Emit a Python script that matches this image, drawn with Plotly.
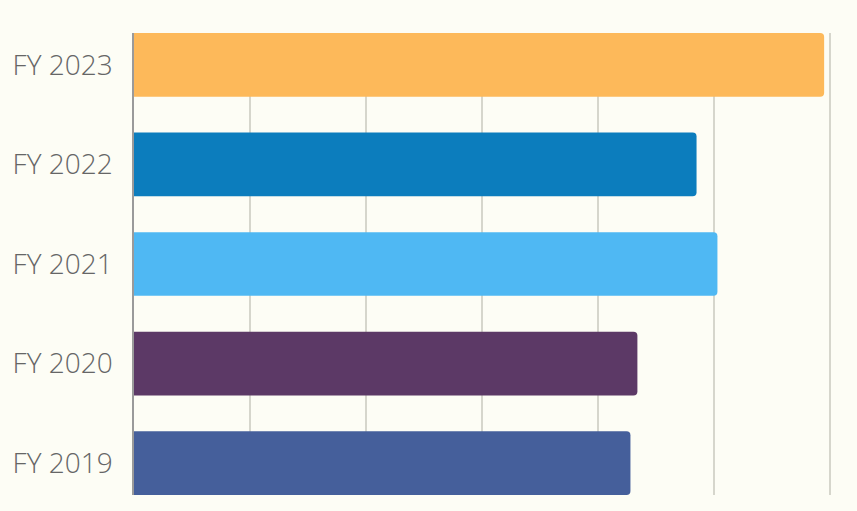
import plotly.graph_objects as go

categories = ["FY 2019", "FY 2020", "FY 2021", "FY 2022", "FY 2023"]
values = [42.8, 43.4, 50.3, 48.5, 59.5]
colors = ["#455f9b", "#5c3966", "#4fb8f3", "#0c7dbd", "#fdb95a"]

fig = go.Figure(go.Bar(
    y=categories, x=values, orientation="h",
    marker=dict(color=colors, line=dict(width=0)),
    width=0.64,
))

fig.update_layout(
    width=857, height=511,
    margin=dict(l=134, r=23, t=33, b=16, autoexpand=False),
    paper_bgcolor="#fdfdf5", plot_bgcolor="#fdfdf5",
    barcornerradius=4,
    showlegend=False,
    font=dict(family="Open Sans", color="#666666"),
)
fig.update_xaxes(range=[0, 60.35], tick0=0, dtick=10, showticklabels=False,
                 showgrid=True, gridcolor="#d6d6cc", gridwidth=1.5,
                 zeroline=False, showline=False, automargin=False)
fig.update_yaxes(range=[-0.32, 4.32], showgrid=False, automargin=False,
                 showline=True, linecolor="#9a9a9a", linewidth=1.5,
                 ticks="", ticklabelstandoff=14,
                 tickfont=dict(size=28, family="Open Sans", color="#666666", weight=300))

fig.write_html(
    "out.html",
    config={"displayModeBar": False},
    post_script="document.body.style.margin='0';document.body.style.overflow='hidden';document.body.style.background='#fdfdf5';",
)
